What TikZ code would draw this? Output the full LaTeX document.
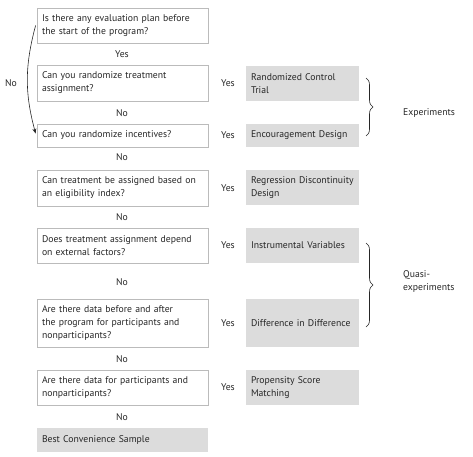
\documentclass[tikz,border=0pt]{standalone}
\usepackage{fontspec}
\setmainfont{PT Sans}
\usetikzlibrary{arrows.meta,decorations.pathreplacing}
\definecolor{txt}{HTML}{262626}
\definecolor{boxline}{HTML}{BBBBBB}
\definecolor{boxfill}{HTML}{DCDCDC}
\begin{document}
\begin{tikzpicture}[x=1pt,y=1pt,
  every node/.style={font=\fontsize{9.7}{13}\selectfont, text=txt},
  qbox/.style={draw=boxline, line width=0.8pt, fill=white, inner xsep=5pt, inner ysep=0pt, text width=161pt, align=left, minimum width=171pt},
  gbox/.style={fill=boxfill, inner xsep=5pt, inner ysep=0pt, text width=161pt, align=left, minimum width=171pt},
  mbox/.style={fill=boxfill, inner xsep=5pt, inner ysep=0pt, text width=103pt, align=left, minimum width=113pt},
  lbl/.style={inner sep=1pt},
  brc/.style={draw=txt, line width=0.6pt, decorate, decoration={brace, amplitude=7pt}}
]
\useasboundingbox (0,0) rectangle (473,-456);
% questions
\node[qbox, minimum height=35pt] (q1) at (122.5,-25.5) {Is there any evaluation plan before\\the start of the program?};
\node[qbox, minimum height=36pt] (q2) at (122.5,-83) {Can you randomize treatment\\assignment?};
\node[qbox, minimum height=23pt] (q3) at (122.5,-135.5) {Can you randomize incentives?};
\node[qbox, minimum height=36pt] (q4) at (122.5,-188) {Can treatment be assigned based on\\an eligibility index?};
\node[qbox, minimum height=35pt] (q5) at (122.5,-245.5) {Does treatment assignment depend\\on external factors?};
\node[qbox, minimum height=48pt] (q6) at (122.5,-323) {Are there data before and after\\the program for participants and\\nonparticipants?};
\node[qbox, minimum height=35pt] (q7) at (122.5,-387.5) {Are there data for participants and\\nonparticipants?};
\node[gbox, minimum height=24pt] (best) at (122.5,-440) {Best Convenience Sample};
% methods
\node[mbox, minimum height=35pt] (rct) at (302.5,-83.5) {Randomized Control\\Trial};
\node[mbox, minimum height=23pt] (enc) at (302.5,-135.5) {\mbox{Encouragement Design}};
\node[mbox, minimum height=35pt] (rdd) at (302.5,-187.5) {\mbox{Regression Discontinuity}\\Design};
\node[mbox, minimum height=35pt] (iv) at (302.5,-245.5) {\mbox{Instrumental Variables}};
\node[mbox, minimum height=48pt] (did) at (302.5,-323) {\mbox{Difference in Difference}};
\node[mbox, minimum height=35pt] (psm) at (302.5,-387.5) {Propensity Score\\Matching};
% yes labels
\node[lbl] (y1) at (122,-54) {Yes};
\node[lbl] (y2) at (228,-83) {Yes};
\node[lbl] (y3) at (228,-135.5) {Yes};
\node[lbl] (y4) at (228,-188) {Yes};
\node[lbl] (y5) at (228,-245.5) {Yes};
\node[lbl] (y6) at (228,-323) {Yes};
\node[lbl] (y7) at (228,-387.5) {Yes};
% no labels
\node[lbl] (n0) at (11,-83) {No};
\node[lbl] (n1) at (122,-113) {No};
\node[lbl] (n2) at (122,-157) {No};
\node[lbl] (n3) at (122,-217) {No};
\node[lbl] (n4) at (122,-282) {No};
\node[lbl] (n5) at (122,-359) {No};
\node[lbl] (n6) at (122,-417) {No};
% curved arrow
\draw[draw=txt, line width=0.6pt, -{Stealth[length=5pt,width=4pt]}] ([xshift=-1pt]q1.west) to[out=255, in=105] ([xshift=-1pt,yshift=2pt]q3.west);
% braces
\coordinate (b1t) at (366,-78);
\coordinate (b1b) at (366,-136);
\coordinate (b2t) at (366,-243);
\coordinate (b2b) at (366,-327);
\draw[brc] (b1t) -- (b1b);
\draw[brc] (b2t) -- (b2b);
\node[anchor=west, inner sep=0pt] (exp) at (403,-113) {Experiments};
\node[anchor=west, inner sep=0pt, align=left] (qexp) at (403,-282) {Quasi-\\experiments};
\end{tikzpicture}
\end{document}
